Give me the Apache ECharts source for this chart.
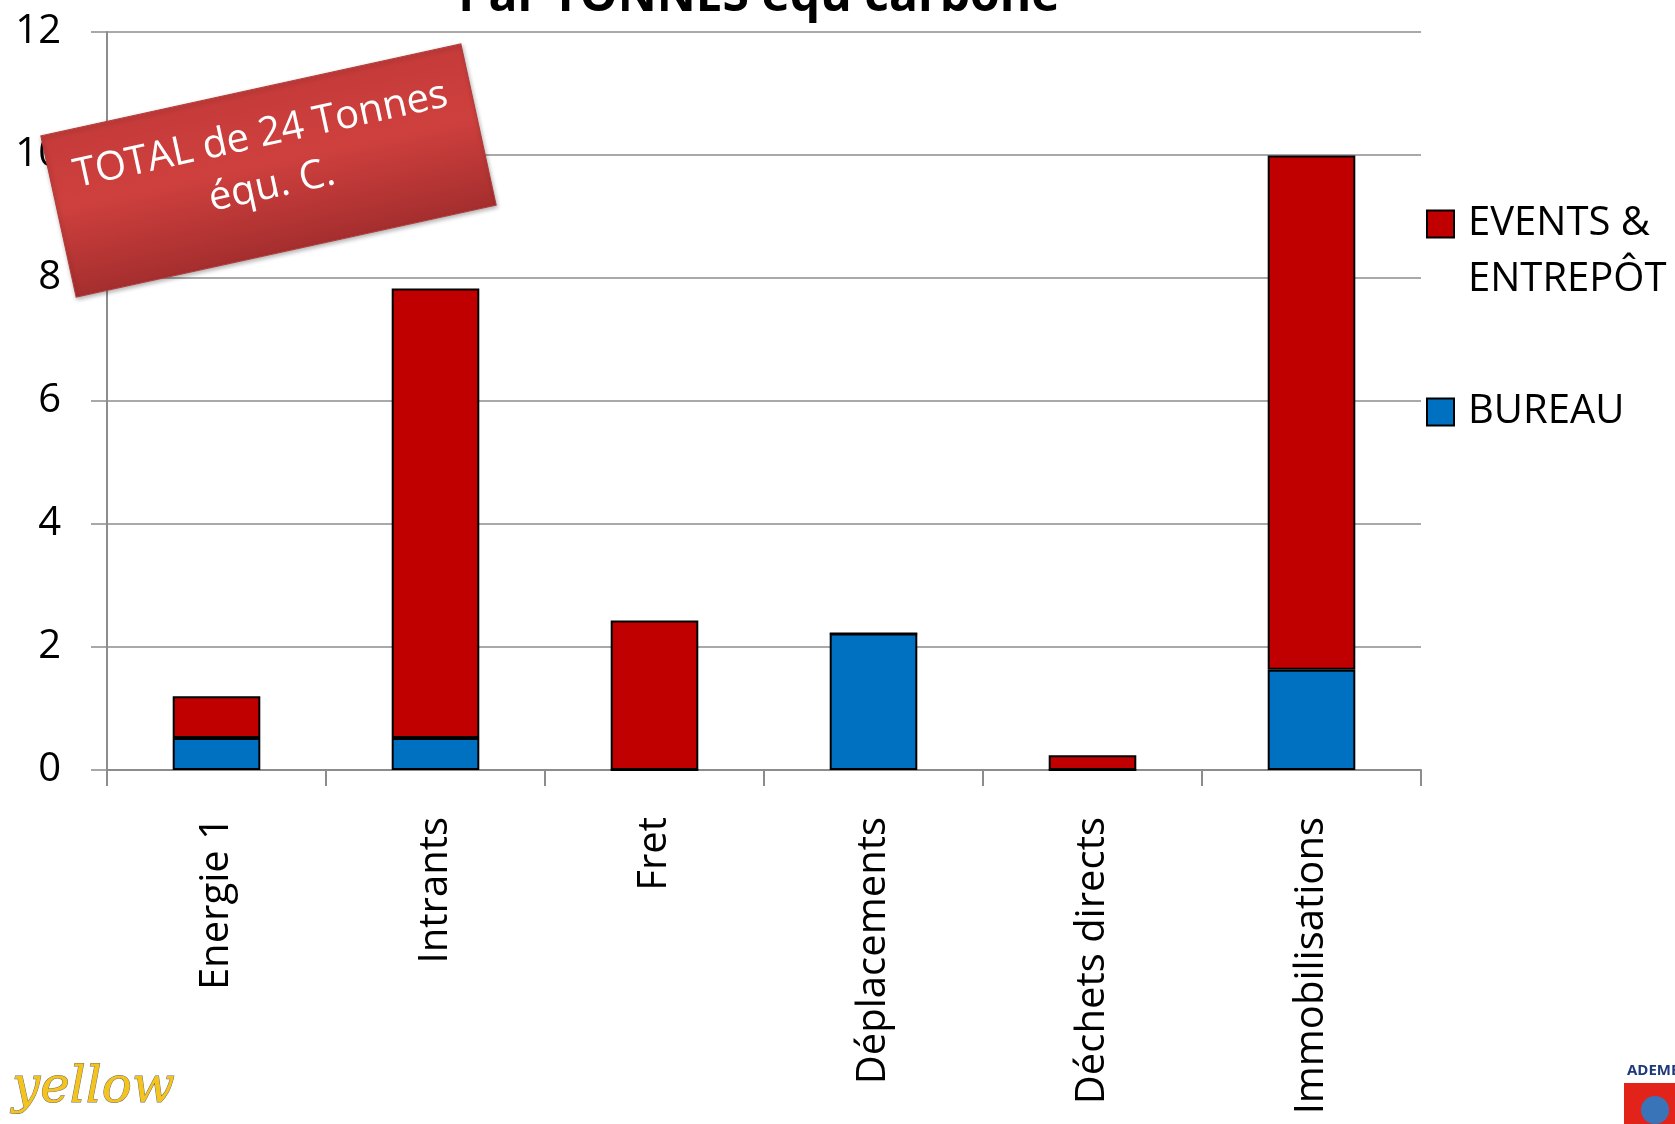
<!DOCTYPE html>
<html>
<head>
<meta charset="utf-8">
<script src="https://cdn.jsdelivr.net/npm/echarts@6/dist/echarts.min.js"></script>
<style>
  html, body { margin: 0; padding: 0; background: #fff; }
  #chart { width: 1675px; height: 1124px; }
</style>
</head>
<body>
<div id="chart"></div>
<script>
// postes d'émission
const categories = ['Energie 1', 'Intrants', 'Fret', 'Déplacements', 'Déchets directs', 'Immobilisations']
// tonnes équ. carbone par poste
const bureau = [0.52, 0.52, 0, 2.22, 0, 1.63]
const eventsEntrepot = [0.68, 7.31, 2.43, 0, 0.24, 8.36]
const yTicks = [0, 2, 4, 6, 8, 10, 12]

const FONT = '"Open Sans", "Noto Sans", sans-serif'
const axisGray = '#8C8C8C'

const chart = echarts.init(document.getElementById('chart'))

const option = {
  backgroundColor: '#fff',
  animation: false,
  grid: { left: 107, right: 254, top: 32, bottom: 354 },
  legend: {
    orient: 'vertical',
    left: 1421,
    top: 135,
    icon: 'rect',
    itemWidth: 27,
    itemHeight: 27,
    itemGap: 76,
    data: ['EVENTS & ENTREPÔT', 'BUREAU'],
    // ligne vide au-dessus pour aligner le carré sur la 1re ligne
    formatter: name => name === 'BUREAU' ? name : ' \n' + name.replace('& ', '&\n'),
    textStyle: { color: '#000', fontSize: 40, fontFamily: FONT, lineHeight: 56, padding: [0, 0, 0, 9] }
  },
  xAxis: {
    type: 'category',
    data: categories,
    axisLine: { lineStyle: { color: axisGray, width: 2 } },
    axisTick: { show: true, length: 16, lineStyle: { color: axisGray, width: 2 } },
    axisLabel: { rotate: 90, margin: 47, color: '#000', fontSize: 40, fontFamily: FONT, interval: 0 }
  },
  yAxis: {
    type: 'value',
    min: yTicks[0],
    max: yTicks[yTicks.length - 1],
    interval: 2,
    axisLine: { show: true, lineStyle: { color: axisGray, width: 2 } },
    axisTick: { show: true, inside: false, length: 16, lineStyle: { color: axisGray, width: 1.5 } },
    axisLabel: { margin: 46, color: '#000', fontSize: 40, fontFamily: FONT },
    splitLine: { lineStyle: { color: axisGray, width: 1.5 } }
  },
  series: [
    {
      name: 'BUREAU',
      type: 'bar',
      stack: 'total',
      data: bureau,
      barCategoryGap: '60%',
      itemStyle: { color: '#0070C0', borderColor: '#000', borderWidth: 2 }
    },
    {
      name: 'EVENTS & ENTREPÔT',
      type: 'bar',
      stack: 'total',
      data: eventsEntrepot,
      barCategoryGap: '60%',
      itemStyle: { color: '#C00000', borderColor: '#000', borderWidth: 2 }
    }
  ],
  graphic: [
    // titre, coupé en haut comme sur l'original
    {
      type: 'text',
      x: 759,
      y: -3,
      z: 50,
      style: {
        text: 'Par TONNES équ carbone',
        fill: '#000',
        font: 'bold 48px ' + FONT,
        align: 'center', verticalAlign: 'middle',
        textAlign: 'center', textVerticalAlign: 'middle'
      }
    },
    // bandeau rouge incliné
    {
      type: 'group',
      x: 268.5,
      y: 170.5,
      rotation: 0.2157,
      z: 100,
      children: [
        {
          type: 'rect',
          z: 100,
          shape: { x: -215, y: -82.5, width: 430, height: 165 },
          style: {
            fill: new echarts.graphic.LinearGradient(0, 0, 0, 1, [
              { offset: 0, color: '#C53B3A' },
              { offset: 0.45, color: '#CE403E' },
              { offset: 1, color: '#A52E2E' }
            ]),
            stroke: '#B33A38',
            lineWidth: 1,
            shadowBlur: 4,
            shadowOffsetX: 1,
            shadowOffsetY: 2,
            shadowColor: 'rgba(0,0,0,0.3)'
          }
        },
        {
          type: 'text',
          z: 101,
          x: 0,
          y: -10,
          style: {
            text: 'TOTAL de 24 Tonnes\néqu. C.',
            fill: '#fff',
            font: '40px ' + FONT,
            lineHeight: 52,
            align: 'center', verticalAlign: 'middle',
            textAlign: 'center', textVerticalAlign: 'middle'
          }
        }
      ]
    },
    // logo bas gauche
    {
      type: 'text',
      x: 12,
      y: 1064,
      z: 10,
      style: {
        text: 'yellow',
        fill: '#F4C31C',
        stroke: '#6E6E6E',
        lineWidth: 1,
        font: 'italic 50px "DejaVu Serif", serif'
      }
    },
    // logo bas droite
    {
      type: 'text',
      x: 1627,
      y: 1063,
      z: 10,
      style: { text: 'ADEME', fill: '#1F3A7A', font: 'bold 15px ' + FONT }
    },
    {
      type: 'rect',
      z: 10,
      shape: { x: 1624, y: 1083, width: 60, height: 50 },
      style: { fill: '#E2231A' }
    },
    {
      type: 'circle',
      z: 11,
      shape: { cx: 1655, cy: 1110, r: 14 },
      style: { fill: '#3A74B8' }
    }
  ]
}

chart.setOption(option)
</script>
</body>
</html>
